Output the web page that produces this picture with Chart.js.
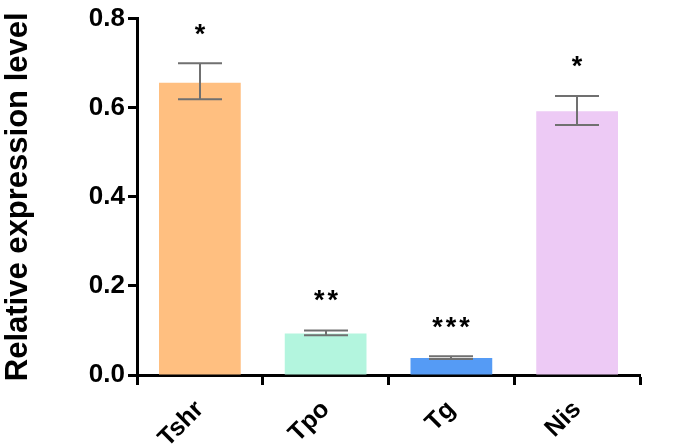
<!DOCTYPE html>
<html>
<head>
<meta charset="utf-8">
<script src="https://cdn.jsdelivr.net/npm/chart.js@4.4.0/dist/chart.umd.min.js"></script>
<style>
  html, body { margin: 0; padding: 0; background: #fff; }
  #wrap { width: 685px; height: 446px; }
</style>
</head>
<body>
<div id="wrap"><canvas id="chart" width="685" height="446"></canvas></div>
<script>
const genes = ['Tshr', 'Tpo', 'Tg', 'Nis'];
const expression = [0.656, 0.093, 0.038, 0.592];
const errLow = [0.619, 0.089, 0.036, 0.561];
const errHigh = [0.700, 0.100, 0.042, 0.626];
const stars = ['*', '**', '***', '*'];
const starLevel = [0.767, 0.171, 0.109, 0.696];
const barColors = ['#FFBF80', '#B3F5DE', '#559BF5', '#EDCAF5'];
const yTicks = [0, 0.2, 0.4, 0.6, 0.8];

const fontFam = '"Liberation Sans", Arial, sans-serif';

// error bars + significance stars, placed with the chart's own scales
const errorBars = {
    id: 'errorBars',
    afterDatasetsDraw(chart) {
        const ctx = chart.ctx;
        const y = chart.scales.y;
        const meta = chart.getDatasetMeta(0);
        ctx.save();
        meta.data.forEach((bar, i) => {
            const cx = Math.round(bar.x);
            const top = y.getPixelForValue(errHigh[i]);
            const bot = y.getPixelForValue(errLow[i]);
            const half = 22;
            ctx.strokeStyle = '#707070';
            ctx.lineWidth = 2;
            ctx.beginPath();
            ctx.moveTo(cx - half, top); ctx.lineTo(cx + half, top);
            ctx.moveTo(cx - half, bot); ctx.lineTo(cx + half, bot);
            ctx.moveTo(cx, top); ctx.lineTo(cx, bot);
            ctx.stroke();

            ctx.fillStyle = '#000';
            ctx.font = 'bold 27px ' + fontFam;
            ctx.letterSpacing = '3px';
            ctx.textAlign = 'center';
            ctx.textBaseline = 'alphabetic';
            ctx.fillText(stars[i], cx + 1.5, y.getPixelForValue(starLevel[i]) + 10);
        });
        ctx.restore();
    }
};

new Chart(document.getElementById('chart'), {
    type: 'bar',
    data: {
        labels: genes,
        datasets: [{
            data: expression,
            backgroundColor: barColors,
            borderWidth: 0,
            barPercentage: 0.65,
            categoryPercentage: 1.0
        }]
    },
    options: {
        responsive: false,
        animation: false,
        layout: { padding: { top: 14, right: 45, left: 0, bottom: 0 } },
        plugins: { legend: { display: false }, tooltip: { enabled: false } },
        scales: {
            x: {
                afterFit: (scale) => { scale.height = 71; },
                grid: { display: true, drawOnChartArea: false, drawTicks: true, tickLength: 10, tickWidth: 3, tickColor: '#000' },
                border: { display: true, color: '#000', width: 3 },
                ticks: {
                    color: '#000',
                    font: { family: fontFam, size: 25, weight: 'bold' },
                    minRotation: 45,
                    maxRotation: 45,
                    padding: 10
                }
            },
            y: {
                min: 0,
                max: 0.8,
                afterBuildTicks: (scale) => { scale.ticks = yTicks.map(v => ({ value: v })); },
                afterFit: (scale) => { scale.width = 137; },
                grid: { display: true, drawOnChartArea: false, drawTicks: true, tickLength: 9, tickWidth: 3, tickColor: '#000' },
                border: { display: true, color: '#000', width: 3 },
                ticks: {
                    color: '#000',
                    font: { family: fontFam, size: 26, weight: 'bold' },
                    padding: 3,
                    callback: (v) => Number(v).toFixed(1)
                },
                title: {
                    display: true,
                    text: 'Relative expression level',
                    color: '#000',
                    font: { family: fontFam, size: 31, weight: 'bold' },
                    padding: { top: 0, bottom: 0 }
                }
            }
        }
    },
    plugins: [errorBars]
});
</script>
</body>
</html>
